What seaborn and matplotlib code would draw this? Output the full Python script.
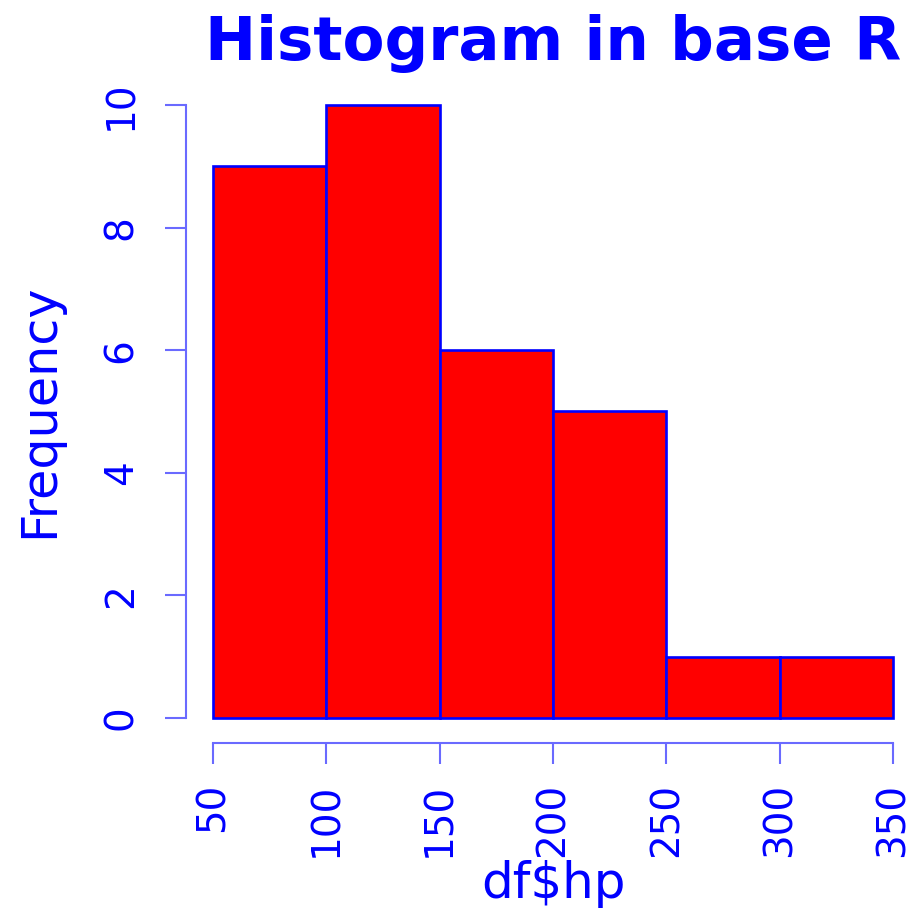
import numpy as np
import pandas as pd
import matplotlib
matplotlib.use("Agg")
import matplotlib.pyplot as plt
import seaborn as sns

# ---- data ----
bin_edges = [50, 100, 150, 200, 250, 300, 350]
counts = [9, 10, 6, 5, 1, 1]
x_ticks = [50, 100, 150, 200, 250, 300, 350]
y_ticks = [0, 2, 4, 6, 8, 10]
title = "Histogram in base R"
xlabel = "df$hp"
ylabel = "Frequency"

mids = [(a + b) / 2 for a, b in zip(bin_edges[:-1], bin_edges[1:])]
df = pd.DataFrame({"hp": mids, "n": counts})

sns.set_style("white")
plt.rcParams['font.family'] = ['DejaVu Sans']

W, H = 917, 914
fig = plt.figure(figsize=(W / 100, H / 100), dpi=100)

# axes region (R plot region incl. 4% padding)
left_px, right_px = 185.8, 920.2
top_px, bottom_px = 80.5, 742.5
ax = fig.add_axes([left_px / W, 1 - bottom_px / H,
                   (right_px - left_px) / W, (bottom_px - top_px) / H])

sns.histplot(data=df, x="hp", weights="n", bins=bin_edges, ax=ax,
             color="red", edgecolor="blue", linewidth=1.9, alpha=1)

ax.set_xlim(38, 362)
ax.set_ylim(-0.4, 10.4)
ax.set_xlabel("")
ax.set_ylabel("")

axis_col = "#6a6aff"
for s in ["top", "right"]:
    ax.spines[s].set_visible(False)
ax.spines["left"].set_bounds(y_ticks[0], y_ticks[-1])
ax.spines["bottom"].set_bounds(x_ticks[0], x_ticks[-1])
for s in ["left", "bottom"]:
    ax.spines[s].set_color(axis_col)
    ax.spines[s].set_linewidth(1.5)

ax.set_xticks(x_ticks)
ax.set_yticks(y_ticks)
ax.set_xticklabels([str(v) for v in x_ticks], rotation=90, va="top", ha="center")
ax.set_yticklabels([str(v) for v in y_ticks], rotation=90, va="center", ha="right")
ax.tick_params(axis="both", direction="out", length=15, width=1.5,
               color=axis_col, labelcolor="blue", labelsize=28,
               bottom=True, left=True, top=False, right=False)
ax.tick_params(axis="x", pad=14)
ax.tick_params(axis="y", pad=18)
ax.grid(False)

fig.text(553 / W, 1 - 60 / H, title, ha="center", va="baseline",
         fontsize=44, fontweight="bold", color="blue")
fig.text(553 / W, 1 - 898 / H, xlabel, ha="center", va="baseline",
         fontsize=36, color="blue")
fig.text(53 / W, 1 - 411 / H, ylabel, ha="center", va="baseline",
         rotation=90, rotation_mode="anchor", fontsize=35.5, color="blue")

fig.savefig("out.png", dpi=100, facecolor="white")
